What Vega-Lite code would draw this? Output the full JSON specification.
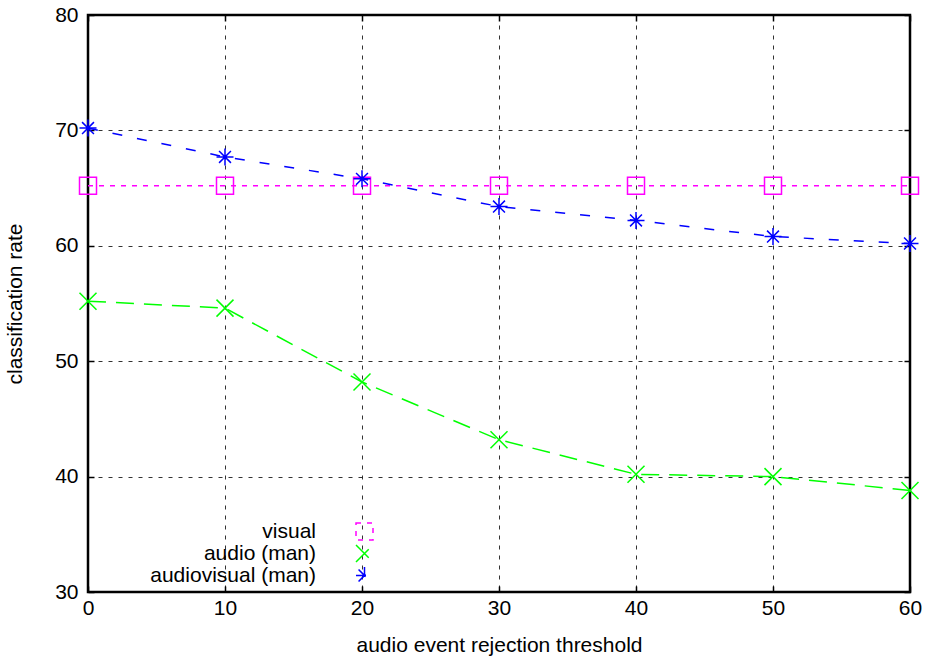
{
  "$schema": "https://vega.github.io/schema/vega-lite/v6.json",
  "width": 822,
  "height": 577,
  "autosize": {"type": "none"},
  "padding": {"left": 88, "top": 15, "right": 23, "bottom": 69},
  "background": "white",
  "data": {
    "values": [
      {"series": "visual", "threshold": 0, "rate": 65.2},
      {"series": "visual", "threshold": 10, "rate": 65.2},
      {"series": "visual", "threshold": 20, "rate": 65.2},
      {"series": "visual", "threshold": 30, "rate": 65.2},
      {"series": "visual", "threshold": 40, "rate": 65.2},
      {"series": "visual", "threshold": 50, "rate": 65.2},
      {"series": "visual", "threshold": 60, "rate": 65.2},
      {"series": "audio (man)", "threshold": 0, "rate": 55.2},
      {"series": "audio (man)", "threshold": 10, "rate": 54.6},
      {"series": "audio (man)", "threshold": 20, "rate": 48.2},
      {"series": "audio (man)", "threshold": 30, "rate": 43.2},
      {"series": "audio (man)", "threshold": 40, "rate": 40.2},
      {"series": "audio (man)", "threshold": 50, "rate": 40.0},
      {"series": "audio (man)", "threshold": 60, "rate": 38.8},
      {"series": "audiovisual (man)", "threshold": 0, "rate": 70.2},
      {"series": "audiovisual (man)", "threshold": 10, "rate": 67.7},
      {"series": "audiovisual (man)", "threshold": 20, "rate": 65.8},
      {"series": "audiovisual (man)", "threshold": 30, "rate": 63.4},
      {"series": "audiovisual (man)", "threshold": 40, "rate": 62.2},
      {"series": "audiovisual (man)", "threshold": 50, "rate": 60.8},
      {"series": "audiovisual (man)", "threshold": 60, "rate": 60.2}
    ]
  },
  "layer": [
    {
      "mark": {"type": "line", "strokeWidth": 1.5, "clip": false},
      "encoding": {
        "x": {
          "field": "threshold", "type": "quantitative",
          "scale": {"domain": [0, 60], "nice": false, "zero": false},
          "axis": {"orient": "bottom", "values": [0, 10, 20, 30, 40, 50, 60], "title": "audio event rejection threshold", "grid": true, "labelPadding": 11, "titlePadding": 16, "labelFlush": false}
        },
        "y": {
          "field": "rate", "type": "quantitative",
          "scale": {"domain": [30, 80], "nice": false, "zero": false},
          "axis": {"orient": "left", "values": [30, 40, 50, 60, 70, 80], "title": "classification rate", "grid": true, "labelPadding": 16, "titlePadding": 29, "labelFlush": false}
        },
        "color": {
          "field": "series", "type": "nominal",
          "scale": {"domain": ["visual", "audio (man)", "audiovisual (man)"], "range": ["#ff00ff", "#00ff00", "#0000ff"]},
          "legend": {
            "orient": "none", "legendX": 266, "legendY": 506, "title": null,
            "labelFont": "Liberation Sans", "labelFontSize": 21, "labelColor": "black", "labelLimit": 400,
            "labelAlign": "right", "labelOffset": -59, "rowPadding": -2.5, "padding": 0,
            "symbolSize": 289, "symbolStrokeWidth": 1.5
          }
        },
        "strokeDash": {
          "field": "series", "type": "nominal",
          "scale": {"domain": ["visual", "audio (man)", "audiovisual (man)"], "range": [[5, 6], [18, 10], [10, 15]]},
          "legend": null
        }
      }
    },
    {
      "mark": {"type": "point", "filled": false, "strokeWidth": 1.5, "size": 289, "opacity": 1, "clip": false},
      "encoding": {
        "x": {
          "field": "threshold", "type": "quantitative",
          "axis": {"orient": "top", "values": [0, 10, 20, 30, 40, 50, 60], "labels": false, "grid": false, "title": null}
        },
        "y": {
          "field": "rate", "type": "quantitative",
          "axis": {"orient": "right", "values": [30, 40, 50, 60, 70, 80], "labels": false, "grid": false, "title": null}
        },
        "color": {"field": "series", "type": "nominal"},
        "shape": {
          "field": "series", "type": "nominal",
          "scale": {"domain": ["visual", "audio (man)", "audiovisual (man)"], "range": ["M-1,-1H1V1H-1Z", "M-1,-1L1,1M-1,1L1,-1", "M-1,0H1M0,-1V1M-0.7,-0.7L0.7,0.7M-0.7,0.7L0.7,-0.7"]},
          "legend": null
        }
      }
    }
  ],
  "config": {
    "view": {"stroke": "black", "strokeWidth": 2.5},
    "axis": {
      "domain": false,
      "gridColor": "black", "gridDash": [4, 6], "gridWidth": 1, "gridOpacity": 0.8,
      "ticks": true, "tickColor": "black", "tickSize": -6, "tickWidth": 1.5,
      "labelFont": "Liberation Sans", "labelFontSize": 21, "labelColor": "black",
      "titleFont": "Liberation Sans", "titleFontSize": 21, "titleFontWeight": "normal", "titleColor": "black"
    }
  }
}
